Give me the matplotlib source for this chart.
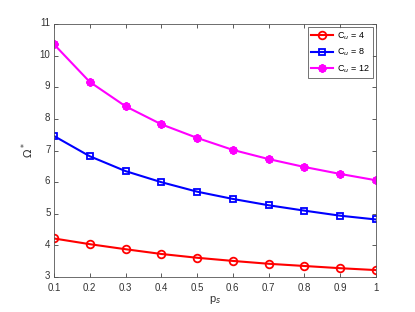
import matplotlib
matplotlib.use("Agg")
import matplotlib.pyplot as plt

plt.rcParams['font.family'] = ['Liberation Sans', 'DejaVu Sans']

ps = [0.1, 0.2, 0.3, 0.4, 0.5, 0.6, 0.7, 0.8, 0.9, 1.0]
omega_cu4 = [4.22, 4.04, 3.88, 3.73, 3.61, 3.51, 3.42, 3.35, 3.28, 3.22]
omega_cu8 = [7.46, 6.82, 6.35, 6.00, 5.70, 5.47, 5.27, 5.10, 4.94, 4.82]
omega_cu12 = [10.36, 9.17, 8.40, 7.83, 7.40, 7.02, 6.73, 6.48, 6.26, 6.06]

xticks = [0.1, 0.2, 0.3, 0.4, 0.5, 0.6, 0.7, 0.8, 0.9, 1]
xticklabels = ['0.1', '0.2', '0.3', '0.4', '0.5', '0.6', '0.7', '0.8', '0.9', '1']
yticks = [3, 4, 5, 6, 7, 8, 9, 10, 11]

fig = plt.figure(figsize=(4.15, 3.12), dpi=100)
ax = fig.add_axes([0.13, 0.112, 0.776, 0.811])

ax.plot(ps, omega_cu4, '-o', color='red', lw=1.5, ms=5.5, mfc='none', mew=1.3, label='C$_u$ = 4')
ax.plot(ps, omega_cu8, '-s', color='blue', lw=1.5, ms=5, mfc='none', mew=1.3, label='C$_u$ = 8')
ax.plot(ps, omega_cu12, '-', marker=(8, 2, 0), color='magenta', lw=1.5, ms=6, mew=1.6, label='C$_u$ = 12')

ax.set_xlim(0.1, 1)
ax.set_ylim(3, 11)
ax.set_xticks(xticks)
ax.set_xticklabels(xticklabels)
ax.set_yticks(yticks)
ax.set_yticklabels([str(v) for v in yticks], va='bottom')

axc = '#404040'
for s in ax.spines.values():
    s.set_color('#555555')
    s.set_linewidth(0.6)
ax.tick_params(direction='in', top=True, right=True, length=3, width=0.6,
               color=axc, labelcolor='#333333', labelsize=7)
ax.tick_params(axis='x', pad=4)
ax.tick_params(axis='y', pad=2.5)
# nudge y labels back near center (bottom-aligned then shifted down slightly)
import matplotlib.transforms as mtransforms
off = mtransforms.ScaledTranslation(0, -3 / 72, fig.dpi_scale_trans)
for lab in ax.get_yticklabels():
    lab.set_transform(lab.get_transform() + off)

ax.set_xlabel('p$_s$', fontsize=8, color='#333333', labelpad=1)
ax.set_ylabel('$\\Omega^*$', fontsize=8, color='#333333', labelpad=3)

leg = ax.legend(loc='upper right', fontsize=6.5, frameon=True, fancybox=False,
                edgecolor='#333333', borderaxespad=0.35, handlelength=2.4,
                labelspacing=0.55, borderpad=0.35, handletextpad=0.5)
leg.get_frame().set_linewidth(0.6)

fig.savefig('out.png', dpi=100)
